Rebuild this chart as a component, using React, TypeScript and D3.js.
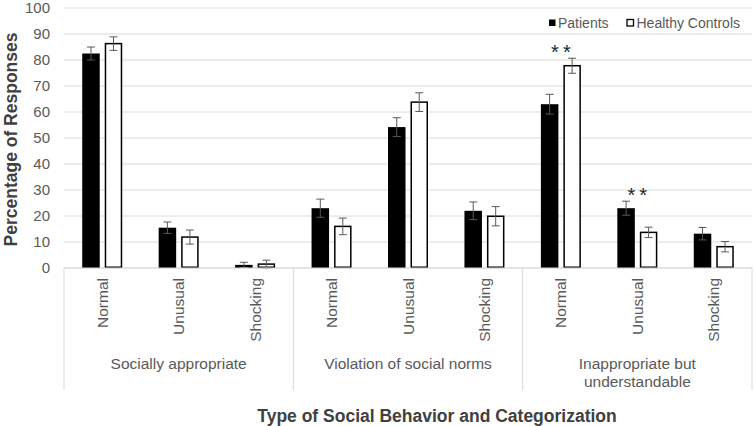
import React from "react";
import * as d3 from "d3";

const groups = ["Socially appropriate", "Violation of social norms", "Inappropriate but understandable"];
const subcats = ["Normal", "Unusual", "Shocking"];
const series = ["Patients", "Healthy Controls"];
const patients = [82.5, 15.5, 1.2, 23.0, 54.2, 22.0, 63.0, 23.0, 13.2];
const patientsErr = [2.5, 2.2, 1.0, 3.5, 3.6, 3.4, 3.8, 2.7, 2.4];
const controls = [86.3, 11.9, 1.5, 16.0, 63.8, 19.9, 77.8, 13.7, 8.2];
const controlsErr = [2.6, 2.7, 1.5, 3.2, 3.6, 3.7, 2.9, 2.0, 2.0];
const significance = ["", "", "", "", "", "", "**", "**", ""];
const yTicks = [0, 10, 20, 30, 40, 50, 60, 70, 80, 90, 100];

const W = 755;
const H = 426;
const left = 64;
const right = 752;
const top = 8;
const bottom = 268;
const FONT = "'Liberation Sans', Arial, Helvetica, sans-serif";

export default function App() {
  const cats = groups.flatMap((g, gi) => subcats.map((s, si) => `${gi}-${si}`));
  const x = d3.scaleBand<string>().domain(cats).range([left, right]).padding(0);
  const xs = d3.scaleBand<string>().domain(series).range([-20, 20]).paddingInner(0.222).paddingOuter(0);
  const y = d3.scaleLinear().domain([0, 100]).range([bottom, top]);
  const gx = d3.scaleBand<string>().domain(groups).range([left, right]).padding(0);

  const bars = cats.flatMap((c, i) => [
    { c, i, s: series[0], v: patients[i], e: patientsErr[i] },
    { c, i, s: series[1], v: controls[i], e: controlsErr[i] },
  ]);

  const catCenter = (c: string) => (x(c) as number) + x.bandwidth() / 2;

  return (
    <svg width={W} height={H} style={{ position: "absolute", left: 0, top: 0, background: "#fff" }} fontFamily={FONT}>
      {yTicks.map((t) => (
        <line key={t} x1={left} x2={right} y1={y(t)} y2={y(t)} stroke="#d9d9d9" strokeWidth={1} />
      ))}
      {[...groups.map((g) => gx(g) as number), right].map((px, i) => (
        <line key={i} x1={px} x2={px} y1={bottom} y2={390} stroke="#d9d9d9" strokeWidth={1} />
      ))}
      {yTicks.map((t) => (
        <text key={t} x={50} y={y(t)} dy="0.35em" textAnchor="end" fontSize={15} fill="#595959">
          {t}
        </text>
      ))}
      {bars.map((b) => {
        const bx = catCenter(b.c) + (xs(b.s) as number);
        const bw = xs.bandwidth();
        const isP = b.s === series[0];
        const cx = bx + bw / 2;
        const hi = y(b.v + b.e);
        const lo = y(Math.max(0, b.v - b.e));
        return (
          <g key={b.c + b.s}>
            <rect
              x={isP ? bx : bx + 0.75}
              y={y(b.v)}
              width={isP ? bw : bw - 1.5}
              height={y(0) - y(b.v) - (isP ? 0 : 0.75)}
              fill={isP ? "#000" : "#fff"}
              stroke={isP ? "none" : "#000"}
              strokeWidth={1.5}
            />
            <line x1={cx} x2={cx} y1={hi} y2={lo} stroke="#595959" strokeWidth={1} />
            <line x1={cx - 4} x2={cx + 4} y1={hi} y2={hi} stroke="#595959" strokeWidth={1} />
            <line x1={cx - 4} x2={cx + 4} y1={lo} y2={lo} stroke="#595959" strokeWidth={1} />
          </g>
        );
      })}
      <line x1={left} x2={right} y1={bottom} y2={bottom} stroke="#d9d9d9" strokeWidth={1} />
      {cats.map((c, i) =>
        significance[i] ? (
          <text
            key={c}
            x={catCenter(c) + 2}
            y={y(Math.max(patients[i] + patientsErr[i], controls[i] + controlsErr[i])) + 1}
            textAnchor="middle"
            fontSize={20}
            letterSpacing={4}
            fill="#262626"
          >
            {significance[i]}
          </text>
        ) : null
      )}
      {cats.map((c, i) => (
        <text
          key={c}
          transform={`translate(${catCenter(c) + 5.5},278) rotate(-90)`}
          textAnchor="end"
          fontSize={15.5}
          fill="#595959"
        >
          {subcats[i % 3]}
        </text>
      ))}
      {groups.map((g, gi) => {
        const cx = (gx(g) as number) + gx.bandwidth() / 2;
        const lines = gi === 2 ? ["Inappropriate but", "understandable"] : [g];
        return (
          <text key={g} x={cx} y={369} textAnchor="middle" fontSize={15.5} fill="#595959">
            {lines.map((l, li) => (
              <tspan key={li} x={cx} dy={li === 0 ? 0 : 18}>
                {l}
              </tspan>
            ))}
          </text>
        );
      })}
      <text transform={`translate(17,139.5) rotate(-90)`} textAnchor="middle" fontSize={17.5} fontWeight="bold" fill="#404040">
        Percentage of Responses
      </text>
      <text x={437} y={421.5} textAnchor="middle" fontSize={17.5} fontWeight="bold" fill="#404040">
        Type of Social Behavior and Categorization
      </text>
      <rect x={549} y={19.5} width={6.5} height={6.5} fill="#000" />
      <text x={558} y={27.5} fontSize={14} fill="#595959">
        {series[0]}
      </text>
      <rect x={627} y={19.5} width={6.5} height={6.5} fill="#fff" stroke="#000" strokeWidth={1.3} />
      <text x={636.5} y={27.5} fontSize={14} fill="#595959">
        {series[1]}
      </text>
    </svg>
  );
}
